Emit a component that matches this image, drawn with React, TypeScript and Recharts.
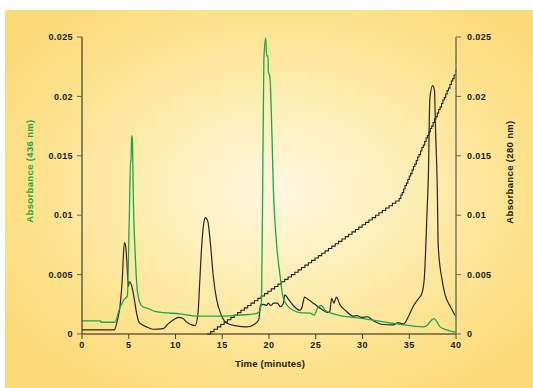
import React from 'react'
import { LineChart, Line, XAxis, YAxis } from 'recharts'

// Absorbance at 436 nm (green trace)
const greenTime = [0, 2.0, 2.01, 3.5, 4.0, 4.5, 4.85, 5.05, 5.2, 5.25, 5.3, 5.38, 5.5, 5.7, 5.9, 6.2, 6.5, 6.9, 7.8, 8.7, 10.5, 12.3, 15.0, 17.0, 18.5, 19.0, 19.2, 19.35, 19.45, 19.65, 19.75, 19.9, 19.93, 20.1, 20.3, 20.46, 20.8, 21.2, 21.5, 21.9, 22.6, 23.3, 24.4, 24.8, 25.3, 25.6, 26.0, 26.5, 27.6, 30.1, 33.7, 36.5, 37.0, 37.3, 37.65, 37.9, 38.3, 39.0, 40]
const greenAbs = [0.0011, 0.0011, 0.00099, 0.00099, 0.0021, 0.0029, 0.0032, 0.0095, 0.0147, 0.0145, 0.0167, 0.0165, 0.011, 0.0065, 0.0038, 0.0026, 0.0023, 0.0022, 0.0019, 0.0018, 0.0017, 0.0015, 0.0015, 0.0016, 0.0017, 0.0019, 0.0028, 0.015, 0.0231, 0.0249, 0.0234, 0.0234, 0.0221, 0.0216, 0.0172, 0.0124, 0.0077, 0.0048, 0.0031, 0.00245, 0.002, 0.0018, 0.00175, 0.0016, 0.0023, 0.0024, 0.002, 0.0018, 0.00155, 0.0013, 0.00085, 0.0006, 0.0008, 0.0011, 0.0013, 0.0011, 0.0006, 0.00034, 0.00015]

// Absorbance at 280 nm (black trace)
const blackTime = [0, 3.45, 3.8, 4.06, 4.3, 4.53, 4.67, 4.8, 4.96, 5.06, 5.3, 5.56, 5.85, 6.13, 6.9, 7.6, 8.7, 9.2, 9.8, 10.3, 10.8, 11.2, 12.1, 12.4, 12.6, 12.8, 13.0, 13.2, 13.45, 13.7, 14.05, 14.4, 14.9, 15.5, 16.5, 17.6, 18.5, 18.9, 19.1, 19.4, 19.75, 19.9, 20.2, 20.5, 20.9, 21.2, 21.5, 21.7, 22.1, 22.6, 23.3, 23.55, 23.8, 24.2, 24.9, 25.6, 26.3, 26.5, 26.7, 26.95, 27.2, 27.6, 28.3, 29.0, 29.4, 29.9, 30.5, 31.2, 32.2, 33.3, 33.8, 34.4, 34.9, 35.4, 36.0, 36.3, 36.6, 36.9, 37.05, 37.2, 37.5, 37.7, 37.8, 38.0, 38.1, 38.5, 38.8, 39.4, 40]
const blackAbs = [0.00034, 0.00034, 0.0012, 0.0023, 0.0045, 0.0077, 0.0074, 0.006, 0.004, 0.0044, 0.0041, 0.0031, 0.0017, 0.00095, 0.0006, 0.0004, 0.00045, 0.00085, 0.0012, 0.0014, 0.0013, 0.001, 0.0007, 0.0017, 0.0045, 0.0074, 0.0092, 0.0098, 0.0095, 0.0079, 0.0048, 0.0029, 0.0016, 0.0009, 0.00068, 0.0006, 0.00085, 0.0012, 0.00245, 0.0025, 0.0024, 0.0026, 0.0024, 0.0026, 0.0026, 0.0023, 0.0025, 0.0033, 0.0029, 0.0024, 0.002, 0.0023, 0.0031, 0.0029, 0.0025, 0.0021, 0.0018, 0.0019, 0.003, 0.0026, 0.0031, 0.00245, 0.0019, 0.0015, 0.00155, 0.0014, 0.00145, 0.0011, 0.0008, 0.00076, 0.00095, 0.00085, 0.00145, 0.0023, 0.003, 0.0033, 0.0046, 0.0102, 0.0135, 0.0198, 0.0209, 0.0205, 0.0175, 0.0122, 0.0074, 0.0046, 0.0034, 0.0023, 0.00145]

// gradient trace (staircase, right axis scale)
const stepTime = [13.4, 13.76, 14.12, 14.48, 14.84, 15.2, 15.56, 15.92, 16.28, 16.64, 17.0, 17.36, 17.72, 18.08, 18.44, 18.8, 19.16, 19.52, 19.88, 20.24, 20.6, 20.96, 21.32, 21.68, 22.04, 22.4, 22.76, 23.12, 23.48, 23.84, 24.2, 24.56, 24.92, 25.28, 25.64, 26.0, 26.36, 26.72, 27.08, 27.44, 27.8, 28.16, 28.52, 28.88, 29.24, 29.6, 29.96, 30.32, 30.68, 31.04, 31.4, 31.76, 32.12, 32.48, 32.84, 33.2, 33.56, 33.92,
  34.1, 34.25, 34.4, 34.55, 34.7, 34.85, 35.0, 35.15, 35.3, 35.45, 35.6, 35.75, 35.9, 36.05, 36.2, 36.35, 36.5, 36.65, 36.8, 36.95, 37.1, 37.25, 37.4, 37.55, 37.7, 37.85, 38.0, 38.15, 38.3, 38.45, 38.6, 38.75, 38.9, 39.05, 39.2, 39.35, 39.5, 39.65, 39.8, 39.95, 40]
const stepAbs = [0, 0.0002, 0.0004, 0.0006, 0.0008, 0.001, 0.0012, 0.0014, 0.0016, 0.0018, 0.002, 0.0022, 0.0024, 0.0026, 0.0028, 0.003, 0.0032, 0.0034, 0.0036, 0.0038, 0.004, 0.0042, 0.0044, 0.0046, 0.0048, 0.005, 0.0052, 0.0054, 0.0056, 0.0058, 0.006, 0.0062, 0.0064, 0.0066, 0.0068, 0.007, 0.0072, 0.0074, 0.0076, 0.0078, 0.008, 0.0082, 0.0084, 0.0086, 0.0088, 0.009, 0.0092, 0.0094, 0.0096, 0.0098, 0.01, 0.0102, 0.0104, 0.0106, 0.0108, 0.011, 0.0112, 0.0114,
  0.0117, 0.0119, 0.0122, 0.0125, 0.0127, 0.013, 0.0133, 0.0135, 0.0138, 0.0141, 0.0143, 0.0146, 0.0149, 0.0151, 0.0154, 0.0157, 0.0159, 0.0162, 0.0165, 0.0167, 0.017, 0.0173, 0.0175, 0.0178, 0.0181, 0.0183, 0.0186, 0.0189, 0.0191, 0.0194, 0.0197, 0.0199, 0.0202, 0.0205, 0.0207, 0.021, 0.0213, 0.0215, 0.0218, 0.0221, 0.0223]

const xTicks = [0, 5, 10, 15, 20, 25, 30, 35, 40]
const yTicks = [0, 0.005, 0.01, 0.015, 0.02, 0.025]
const yTickLabels = ['0', '0.005', '0.01', '0.015', '0.02', '0.025']

const toPoints = (ts: number[], vs: number[]) => ts.map((t, i) => ({ t, v: vs[i] }))
const greenData = toPoints(greenTime, greenAbs)
const blackData = toPoints(blackTime, blackAbs)
const stepData = toPoints(stepTime, stepAbs)

const FONT = '"Liberation Sans", Arial, sans-serif'
const GREEN = '#17a94a'
const tickStyle = { fontSize: 9, fontWeight: 700, fill: '#1a1a1a', fontFamily: FONT, letterSpacing: 0.4 }
const yFmt = (v: number) => yTickLabels[yTicks.findIndex((y) => Math.abs(y - v) < 1e-9)] ?? String(v)

export default function App() {
  return (
    <div style={{ position: 'absolute', left: 0, top: 0, width: 533, height: 388, background: '#fff' }}>
      <div
        style={{
          position: 'absolute', left: 5, top: 10, width: 528, height: 378,
          background: 'radial-gradient(ellipse 62% 62% at 52% 48%, #fff8e2 0%, #feeeb4 40%, #fde28c 75%, #fcda7a 100%)',
        }}
      />
      <div style={{ position: 'absolute', left: 0, top: 0 }}>
        <LineChart width={533} height={388} margin={{ top: 37, right: 0, bottom: 0, left: 0 }}>
          <XAxis
            type="number" dataKey="t" domain={[0, 40]} ticks={xTicks} height={54}
            stroke="#1a1a1a" tickLine={{ stroke: '#444' }} tickSize={5} tickMargin={3}
            tick={tickStyle} interval={0}
            label={{
              content: () => (
                <text x={270} y={367} textAnchor="middle" fontSize={9.5} fontWeight={700} fill="#1a1a1a" fontFamily={FONT} letterSpacing={0.2}>
                  Time (minutes)
                </text>
              ),
            }}
          />
          <YAxis
            yAxisId="left" orientation="left" width={82} domain={[0, 0.025]} ticks={yTicks}
            stroke="#1a1a1a" tickLine={{ stroke: '#666' }} tickSize={5} tickMargin={4}
            tick={tickStyle} tickFormatter={yFmt} interval={0}
            label={{
              content: () => (
                <text x={33} y={171} transform="rotate(-90 33 171)" textAnchor="middle" fontSize={9.5} fontWeight={700} fill={GREEN} fontFamily={FONT} letterSpacing={0.35}>
                  Absorbance (436 nm)
                </text>
              ),
            }}
          />
          <YAxis
            yAxisId="right" orientation="right" width={77} domain={[0, 0.025]} ticks={yTicks}
            stroke="#857a62" strokeWidth={1.6} tickLine={{ stroke: '#666', strokeWidth: 1 }} tickSize={5} tickMargin={6}
            tick={tickStyle} tickFormatter={yFmt} interval={0}
            label={{
              content: () => (
                <text x={513} y={172} transform="rotate(-90 513 172)" textAnchor="middle" fontSize={9.5} fontWeight={700} fill="#1a1a1a" fontFamily={FONT} letterSpacing={0.35}>
                  Absorbance (280 nm)
                </text>
              ),
            }}
          />
          <Line
            yAxisId="right" data={stepData} dataKey="v" type="stepAfter"
            stroke="#222" strokeWidth={1.1} dot={false} isAnimationActive={false}
          />
          <Line
            yAxisId="right" data={blackData} dataKey="v" type="monotone"
            stroke="#262626" strokeWidth={1.2} dot={false} isAnimationActive={false}
          />
          <Line
            yAxisId="left" data={greenData} dataKey="v" type="monotone"
            stroke={GREEN} strokeWidth={1.3} dot={false} isAnimationActive={false}
          />
        </LineChart>
      </div>
    </div>
  )
}
